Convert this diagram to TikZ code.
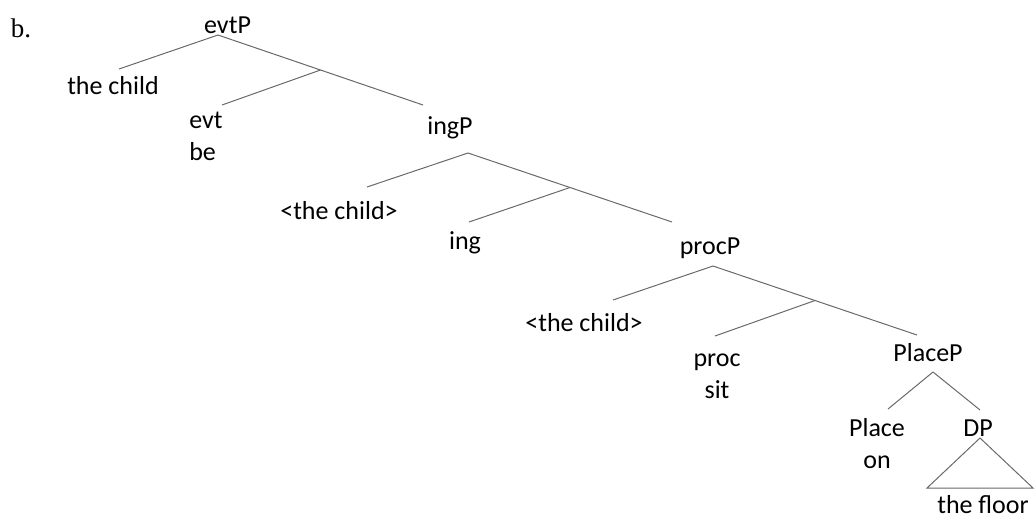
\documentclass[tikz,border=0pt]{standalone}
\usepackage{fontspec}
\setmainfont{Carlito}
\newfontfamily\labelfont{Liberation Serif}
\usetikzlibrary{calc}

\tikzset{
  word/.style={inner sep=0pt, outer sep=0pt, font=\fontsize{26}{32}\selectfont, text=black},
  stack/.style={word, align=center},
  stackleft/.style={word, align=left},
  branch/.style={draw={rgb,255:red,105;green,105;blue,105}, line width=1pt},
}

\begin{document}
\begin{tikzpicture}[x=1pt, y=-1pt]
  \useasboundingbox (0,0) rectangle (1035,520);

  % example label
  \node[inner sep=0pt, font=\labelfont\fontsize{27}{32}\selectfont] (ex) at (21,28) {b.};

  % labels of the tree
  \node[word] (evtP) at (227.5,25) {evtP};
  \node[word] (child1) at (113,86) {the child};
  \node[stackleft] (evt) at (206,136.5) {evt\\be};
  \node[word] (ingP) at (450,128) {ingP};
  \node[word] (child2) at (339,211) {<the child>};
  \node[word] (ing) at (465,243) {ing};
  \node[word] (procP) at (710,248) {procP};
  \node[word] (child3) at (584,323) {<the child>};
  \node[stack] (proc) at (717,376.5) {proc\\sit};
  \node[word] (PlaceP) at (928,352.5) {PlaceP};
  \node[stack] (place) at (877,444) {Place\\on};
  \node[word] (DP) at (978,428.5) {DP};
  \node[word] (floor) at (983,505) {the floor};

  % evtP: specifier and projection line to ingP
  \coordinate (evtP-foot) at ($(evtP)+(-9.5,10)$);
  \coordinate (ingP-head) at ($(ingP)+(-27,-23)$);
  \coordinate (evtbar) at ($(evtP-foot)!0.5!(ingP-head)$);
  \draw[branch] (evtP-foot) -- ($(child1)+(6,-17)$);
  \draw[branch] (evtP-foot) -- (ingP-head);
  \draw[branch] (evtbar) -- ($(evt)+(16,-31.5)$);

  % ingP
  \coordinate (ingP-foot) at ($(ingP)+(18,25)$);
  \coordinate (procP-head) at ($(procP)+(-38,-26)$);
  \coordinate (ingbar) at ($(ingP-foot)!0.5!(procP-head)$);
  \draw[branch] (ingP-foot) -- ($(child2)+(28,-24)$);
  \draw[branch] (ingP-foot) -- (procP-head);
  \draw[branch] (ingbar) -- ($(ing)+(4,-21)$);

  % procP
  \coordinate (procP-foot) at ($(procP)+(3,18)$);
  \coordinate (PlaceP-head) at ($(PlaceP)+(-11,-17.5)$);
  \coordinate (procbar) at ($(procP-foot)!0.5!(PlaceP-head)$);
  \draw[branch] (procP-foot) -- ($(child3)+(29,-23)$);
  \draw[branch] (procP-foot) -- (PlaceP-head);
  \draw[branch] (procbar) -- ($(proc)+(-2,-40.5)$);

  % PlaceP
  \coordinate (PlaceP-foot) at ($(PlaceP)+(5,19.5)$);
  \draw[branch] (PlaceP-foot) -- ($(place)+(11,-35)$);
  \draw[branch] (PlaceP-foot) -- ($(DP)+(2,-18.5)$);

  % DP triangle
  \draw[branch, line join=miter] ($(DP)+(2,9.5)$) -- ($(DP)+(-51,59.5)$) -- ($(DP)+(55,59.5)$) -- cycle;
\end{tikzpicture}
\end{document}
